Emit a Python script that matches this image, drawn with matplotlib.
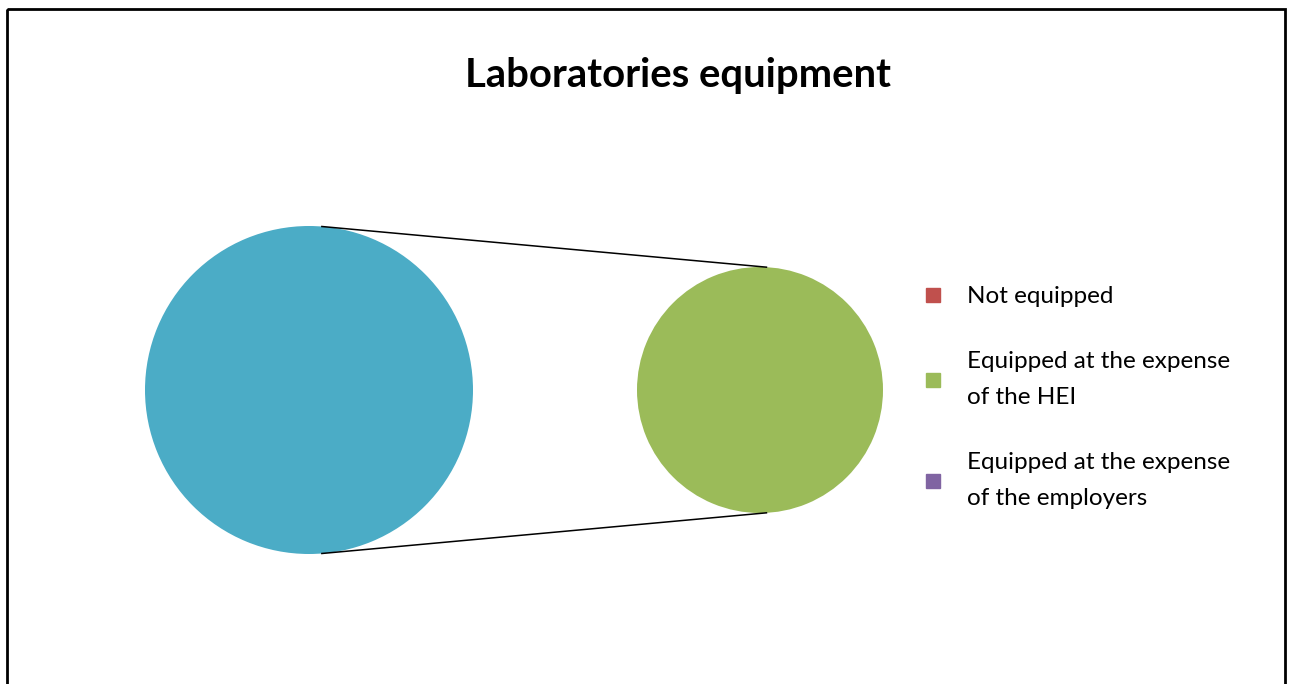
"""Laboratories equipment: pie-of-pie chart."""

import numpy as np
import matplotlib
matplotlib.use("Agg")
import matplotlib.pyplot as plt
from matplotlib.patches import Rectangle
from matplotlib.lines import Line2D

plt.rcParams["font.family"] = ["Lato", "DejaVu Sans"]

# Share of laboratories (%)
categories = ["Not equipped",
              "Equipped at the expense\nof the HEI",
              "Equipped at the expense\nof the employers"]
shares = [0, 100, 0]
colors = ["#C0504D", "#9BBB59", "#8064A2"]
other_color = "#4BACC6"

W, H = 1290, 684
fig = plt.figure(figsize=(W / 100, H / 100), dpi=100)
ax = fig.add_axes([0, 0, 1, 1])

# main pie: "Not equipped" + "Other" (the two "equipped" categories)
main_vals = [shares[0], shares[1] + shares[2]]
main_c, main_r = (309, 390), 164
ax.pie(main_vals, colors=[colors[0], other_color], center=main_c,
       radius=main_r, startangle=90, counterclock=False,
       wedgeprops=dict(linewidth=0), frame=True)

# secondary pie: breakdown of "Other"
sec_vals = shares[1:]
sec_c, sec_r = (760, 390), 123
ax.pie(sec_vals, colors=colors[1:], center=sec_c, radius=sec_r,
       startangle=90, counterclock=False,
       wedgeprops=dict(linewidth=0), frame=True)

# connector lines between the two pies
for sign in (-1, 1):
    a1, a2 = np.deg2rad(85.5), np.deg2rad(87)
    p1 = (main_c[0] + main_r * np.cos(a1), main_c[1] + sign * main_r * np.sin(a1))
    p2 = (sec_c[0] + sec_r * np.cos(a2), sec_c[1] + sign * sec_r * np.sin(a2))
    ax.plot([p1[0], p2[0]], [p1[1], p2[1]], color="black", lw=1.1)

ax.add_patch(Rectangle((7, 9), 1278, 720, fill=False, edgecolor="black", lw=2))

ax.set_xlim(0, W)
ax.set_ylim(H, 0)
ax.set_aspect("auto")
ax.axis("off")

ax.text(678, 75, "Laboratories equipment", ha="center", va="center",
        fontsize=28.8, fontweight="bold")

handles = [Line2D([], [], marker="s", linestyle="none", markersize=10.5,
                  markerfacecolor=c, markeredgecolor=c) for c in colors]
leg = fig.legend(handles, categories, loc="upper left",
                 bbox_to_anchor=(910 / W, 1 - 274 / H), frameon=False,
                 fontsize=17.5, handlelength=0.9, handletextpad=0.95,
                 labelspacing=1.82, borderpad=0)
for t in leg.get_texts():
    t.set_linespacing(1.87)

fig.savefig("out.png", dpi=100)
